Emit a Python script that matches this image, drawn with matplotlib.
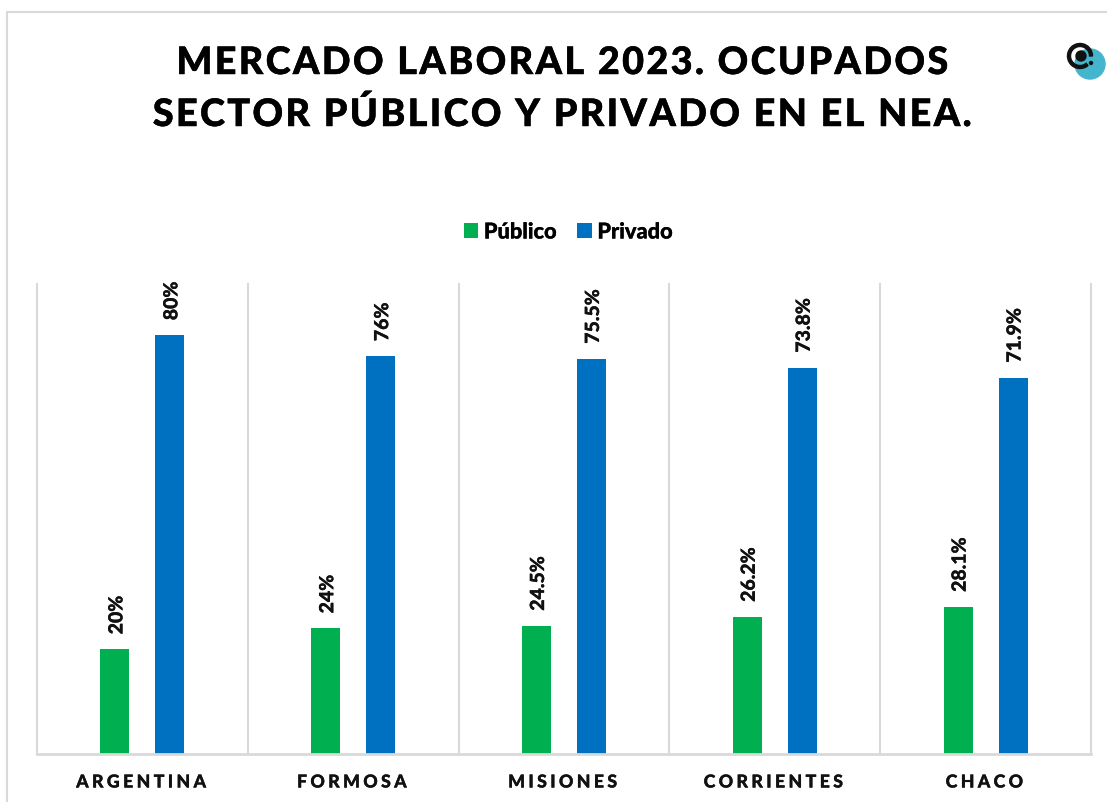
import matplotlib
matplotlib.use("Agg")
import matplotlib.pyplot as plt
import matplotlib.patheffects as pe
from matplotlib.patches import Rectangle, Circle, Wedge

categories = ["ARGENTINA", "FORMOSA", "MISIONES", "CORRIENTES", "CHACO"]
publico = [20, 24, 24.5, 26.2, 28.1]
privado = [80, 76, 75.5, 73.8, 71.9]
pub_labels = ["20%", "24%", "24.5%", "26.2%", "28.1%"]
priv_labels = ["80%", "76%", "75.5%", "73.8%", "71.9%"]
title_lines = ["MERCADO LABORAL 2023. OCUPADOS", "SECTOR PÚBLICO Y PRIVADO EN EL NEA."]

W, H = 1107, 803
plt.rcParams['font.family'] = ['Lato', 'DejaVu Sans']
HAIR = "\u200a"
HEAVY = "black"
THICK = [pe.withStroke(linewidth=0.2, foreground="#111111")]


def spaced(s, n=1):
    return (HAIR * n).join(s)


fig = plt.figure(figsize=(W/100, H/100), dpi=100)
fig.patches.append(Rectangle((7/W, -0.01), 1.1, 1.01-13/H, transform=fig.transFigure,
                             fill=False, ec="#d9d9d9", lw=1.5))
ax = fig.add_axes([37/W, 1-755/H, (1091-37)/W, (755-285)/H])
x = list(range(5))
bw = 29/211
off = 27.5/211
b1 = ax.bar([i-off for i in x], publico, bw, color="#00b050", label="Público")
b2 = ax.bar([i+off for i in x], privado, bw, color="#0070c0", label="Privado")
ax.set_xlim(-0.5, 4.5)
ax.set_ylim(0, 470/5.235)
for s in ["top", "right", "left"]:
    ax.spines[s].set_visible(False)
ax.spines["bottom"].set_color("#d9d9d9")
ax.spines["bottom"].set_linewidth(2)
ax.set_yticks([])
ax.set_xticks(x)
ax.set_xticklabels([])
ax.tick_params(axis="x", length=0)
for v in [-0.5, 0.5, 1.5, 2.5, 3.5, 4.5]:
    ax.axvline(v, color="#d9d9d9", lw=1.5, clip_on=False)
for i, c in enumerate(categories):
    ax.annotate(spaced(c, 3), (i-0.005, 0), xytext=(0, -28), textcoords="offset pixels",
                ha="center", va="center", fontsize=12.8, fontweight=HEAVY, color="#111111",
                path_effects=THICK)
for bars, labs in [(b1, pub_labels), (b2, priv_labels)]:
    for r, l in zip(bars, labs):
        ax.annotate(l, (r.get_x()+r.get_width()/2+2/211, r.get_height()), xytext=(0, 15),
                    textcoords="offset pixels", rotation=90, ha="center", va="bottom",
                    fontsize=14, fontweight=HEAVY, color="#111111", path_effects=THICK)
leg = fig.legend(handles=[b1, b2], loc="center", bbox_to_anchor=(568/W, 1-233/H), ncol=2,
                 frameon=False, handlelength=0.68, handleheight=0.68, handletextpad=0.25,
                 columnspacing=0.95, prop=dict(size=15.7, weight=HEAVY))
for t in leg.get_texts():
    t.set_path_effects(THICK)
for line, yp in zip(title_lines, [64, 115]):
    fig.text(562/W, 1-yp/H, spaced(line, 1), ha="center", va="center", fontsize=27.2,
             fontweight=HEAVY, color="black",
             path_effects=[pe.withStroke(linewidth=0.35, foreground="black")])
fig.patches.append(Circle((1090, H-65), 15, transform=None, color="#43b5cc"))
fig.patches.append(Wedge((1080, H-57), 12.5, 0, 310, width=3, transform=None, color="#111111"))
fig.patches.append(Circle((1081, H-57), 5, transform=None, color="#111111"))
fig.patches.append(Circle((1091, H-64), 1.5, transform=None, color="#111111"))
fig.savefig("out.png", dpi=100)
